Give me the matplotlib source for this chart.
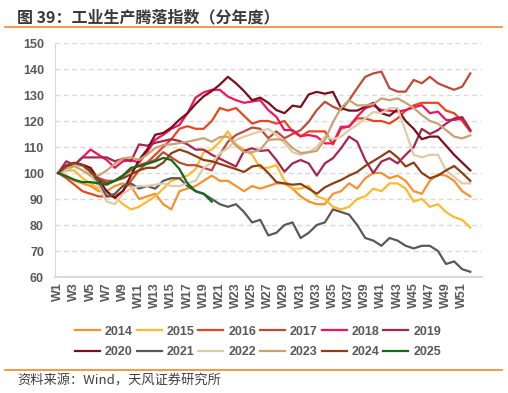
import matplotlib
matplotlib.use("Agg")
import matplotlib.pyplot as plt

plt.rcParams['font.family'] = ['Liberation Sans', 'Noto Sans CJK SC', 'DejaVu Sans']

weeks = ["W%d" % i for i in range(1, 53)]

y2014 = [100, 99, 97, 96, 95, 93, 93, 95, 96, 95,
         90, 91, 92, 88, 86, 93, 94, 95, 97, 99,
         97, 97, 95, 93, 95, 94, 95, 96, 96, 94,
         91, 89, 88, 88, 92, 93, 96, 94, 98, 100,
         100, 98, 99, 97, 93, 92, 97, 99.5, 99, 97,
         93, 91]
y2015 = [100, 101, 101, 98, 96, 94, 92, 91, 88, 86,
         87, 89, 91, 94, 97, 98, 99, 101.5, 108, 109,
         112, 116, 111, 109, 107, 102, 102, 103, 97, 94,
         94, 95, 91, 90, 87, 86, 87, 90, 91, 94,
         93, 96, 96, 94, 89, 90, 87, 88, 85, 83,
         82, 79]
y2016 = [100, 98, 95.5, 93, 92, 91, 91, 91, 93, 97,
         101, 104, 107, 110, 113, 117, 118, 117, 117, 120,
         125, 124, 125, 122, 119, 120, 120, 119, 120, 116,
         114, 116, 116, 116, 111, 117, 118, 121, 121, 120,
         120, 119, 121, 124, 126, 127, 127, 127, 124, 123,
         120, 116]
y2017 = [100, 103, 104, 103, 101, 98, 97, 97, 99, 101,
         103, 104, 105, 108, 106, 104, 103, 103, 102, 101,
         107, 112, 114.6, 116, 117.5, 117, 113.4, 116, 113.4, 115,
         116.5, 119.7, 124.2, 127.4, 125.5, 124.2, 128, 132.6, 137, 138.3,
         139, 132.6, 131.3, 131.3, 135.8, 134.5, 137, 134.5, 133.2, 132,
         133.2, 138.3]
y2018 = [100, 102, 103, 106, 109, 107, 105, 102, 104.5, 105,
         104, 108, 112.8, 114.7, 117, 118.5, 123, 129, 131, 132,
         132, 129.4, 128, 127, 127.5, 128, 124.2, 121.6, 116.5, 116.5,
         114.2, 114.6, 114, 111.4, 111.4, 117.8, 117.8, 121.7, 124.9, 126,
         124.2, 124, 123.6, 124.2, 125.2, 126.1, 123, 123.6, 120.4, 120.4,
         121, 116.5]
y2019 = [100, 104.5, 103, 106, 106, 106, 106, 104.5, 105.5, 104.5,
         111, 110.5, 111.6, 112.3, 113, 112.3, 111, 109, 109, 107,
         105.5, 104, 102.5, 108.5, 109.5, 108.5, 108.8, 105, 100.5, 103.7,
         105, 103.7, 99, 103.7, 105.7, 109.5, 114, 112, 105, 100,
         104.4, 105.7, 103.7, 107, 110, 117, 115, 116.5, 119, 121,
         121.5, 116.5]
y2020 = [100, 102.6, 103.8, 103.2, 102, 97.4, 93, 90.4, 93, 99,
         105, 109, 114.7, 115.4, 117.5, 120.5, 123, 126.5, 129.5, 131.5,
         134, 137, 134.5, 131.5, 128, 129, 127, 124.2, 123, 125.9,
         125.4, 130.2, 131.2, 130.5, 131.2, 125, 124, 124, 125.5, 127,
         123, 122, 124.5, 120, 117, 113, 114, 114, 110.5, 107,
         104, 101]
y2021 = [100, 101, 103, 103, 100, 96, 91, 92, 95, 96,
         94, 95, 94, 97, 98, 98, 95, 93, 92, 90,
         88, 87, 88, 85, 81, 82, 76, 77, 80, 81,
         75, 77, 80, 81, 86, 85, 84, 80, 75, 74,
         72, 75, 74, 72, 71, 72, 72, 70, 65, 66,
         63, 62]
y2022 = [100, 101, 103, 103, 99, 95, 89, 88, 92, 94,
         95, 95, 95.5, 96, 95, 95, 96, 97, 102, 104,
         107.5, 109.6, 112.7, 114, 115, 116, 117, 114.6, 111.5, 108,
         107, 108, 110, 114, 113, 114, 116.5, 118.5, 121, 123.5,
         123, 125, 125, 116, 107, 106, 107, 107, 101, 98.5,
         96, 96]
y2023 = [100, 102, 102.6, 101, 99, 99, 101, 103.5, 105.6, 106,
         105, 107, 109.6, 110.8, 111, 111.5, 112, 112.7, 113.4, 112,
         113.8, 114, 110.5, 108, 108, 109, 112.7, 113, 112.7, 109.6,
         107.7, 108, 108.5, 112.7, 119.5, 125, 128, 126, 126, 126.5,
         128.7, 128, 128.7, 127, 125, 122.3, 120, 119, 116.5, 114,
         113.3, 114.5]
y2024 = [100, 102.6, 103.8, 103, 100.6, 97.5, 96, 97, 98, 99.5,
         101, 102, 102, 104, 107.6, 109, 108, 106.5, 105, 104.5,
         103.5, 102.5, 101.5, 100.4, 102.5, 103, 100, 96.5, 96, 95.5,
         95.8, 94, 92, 94.5, 96, 97.3, 99, 100.4, 102.7, 104.6,
         106.5, 108.5, 106, 102.5, 104, 100, 98, 99, 101, 102.7,
         100, 97]
y2025 = [100, 98.7, 97.4, 96.5, 96.5, 96, 95.5, 97, 99, 102,
         102.6, 103.5, 104.5, 105.8, 105, 101.5, 96, 93, 92, 89]

years = ["2014", "2015", "2016", "2017", "2018", "2019",
         "2020", "2021", "2022", "2023", "2024", "2025"]
series = [y2014, y2015, y2016, y2017, y2018, y2019,
          y2020, y2021, y2022, y2023, y2024, y2025]
colors = ['#F7912F', '#FDBA2C', '#E5481F', '#BD4B37', '#F0145A', '#A62651',
          '#7B0E1B', '#595959', '#DDCBAA', '#C9A273', '#8B3F14', '#136A1B']

fig = plt.figure(figsize=(5.08, 3.93), dpi=100)
ax = fig.add_axes([55 / 508, 1 - 277 / 393, 427 / 508, 234 / 393])

lines = []
for name, vals, c in zip(years, series, colors):
    ln, = ax.plot(range(len(vals)), vals, color=c, lw=1.6, label=name)
    lines.append(ln)

ax.set_ylim(60, 150)
ax.set_xlim(-0.4, 52.45)
ax.set_yticks(range(60, 151, 10))
ax.set_xticks(range(0, 52, 2))
ax.set_xticklabels(weeks[::2], rotation=90)
ax.tick_params(length=0, labelsize=9, colors='#595959')
ax.tick_params(axis='y', pad=8)
ax.tick_params(axis='x', pad=4)
for lab in ax.get_xticklabels() + ax.get_yticklabels():
    lab.set_fontweight('bold')

for v in range(70, 151, 10):
    ax.axhline(v, color='#D9D9D9', lw=1, dashes=(3.5, 2.5), zorder=0)

for s in ['top', 'right']:
    ax.spines[s].set_visible(False)
ax.spines['left'].set_color('#D9D9D9')
ax.spines['bottom'].set_color('#D9D9D9')
ax.spines['bottom'].set_linewidth(1.5)

# legend fills by column, so interleave the two rows
order = [0, 6, 1, 7, 2, 8, 3, 9, 4, 10, 5, 11]
leg = fig.legend([lines[i] for i in order], [years[i] for i in order],
                 loc='center', bbox_to_anchor=(258 / 508, 1 - 342 / 393), ncol=6,
                 frameon=False, handlelength=2.0, handletextpad=0.4,
                 columnspacing=0.3, labelspacing=0.7,
                 prop={'size': 9, 'weight': 'bold'})
for t in leg.get_texts():
    t.set_color('#595959')

fig.text(17 / 508, 1 - 17 / 393, "图 39：工业生产腾落指数（分年度）", fontsize=11.5,
         family=['Noto Sans CJK SC', 'DejaVu Sans'], weight='bold',
         color='#3A3A3A', va='center', ha='left')
fig.add_artist(plt.Line2D([5 / 508, 502 / 508], [1 - 27 / 393, 1 - 27 / 393],
                          color='#F0862E', lw=1.2))
fig.add_artist(plt.Line2D([5 / 508, 502 / 508], [1 - 370 / 393, 1 - 370 / 393],
                          color='#F0862E', lw=1.2))
fig.text(17 / 508, 1 - 381 / 393, "资料来源：Wind，天风证券研究所", fontsize=9.5,
         family=['Noto Sans CJK SC', 'DejaVu Sans'], color='#404040',
         va='center', ha='left')

fig.savefig("out.png", dpi=100)
